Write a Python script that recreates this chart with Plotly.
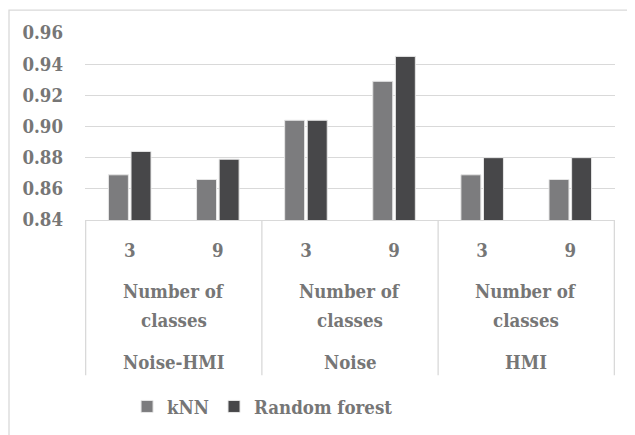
import plotly.graph_objects as go

groups = ["Noise-HMI", "Noise", "HMI"]
class_counts = ["3", "9"]
axis_title_lines = ["Number of", "classes"]
knn = [0.869, 0.866, 0.904, 0.929, 0.869, 0.866]
rf = [0.884, 0.879, 0.904, 0.945, 0.880, 0.880]
y_ticks = [0.84, 0.86, 0.88, 0.90, 0.92, 0.94, 0.96]

cats = [f"{g} {c}" for g in groups for c in class_counts]
tick_text = [c for g in groups for c in class_counts]

FONT = "DejaVu Serif Condensed, DejaVu Serif"
FS = 18.5
TXT = "#767676"
fnt = dict(family=FONT, size=FS, color=TXT, weight="bold")

fig = go.Figure()
fig.add_bar(x=cats, y=knn, name="kNN", marker=dict(color="#7c7c7e", line=dict(color="#e6e6e6", width=1)))
fig.add_bar(x=cats, y=rf, name="Random forest", marker=dict(color="#474749", line=dict(color="#e6e6e6", width=1)))

n = len(class_counts)
shapes = []
for i in range(len(groups) + 1):
    xb = i * n - 0.5
    shapes.append(dict(type="line", xref="x", yref="paper", x0=xb, x1=xb, y0=0, y1=-0.83,
                       line=dict(color="#d9d9d9", width=1.3)))
shapes.append(dict(type="rect", xref="paper", yref="paper", x0=-0.1434, x1=1.06, y0=-1.2, y1=1.1223,
                   line=dict(color="#d9d9d9", width=1.3), fillcolor="rgba(0,0,0,0)", layer="below"))

title_y = [-0.383, -0.537]
annotations = []
for i, g in enumerate(groups):
    xc = i * n + (n - 1) / 2
    for line, yy in zip(axis_title_lines, title_y):
        annotations.append(dict(x=xc, xref="x", y=yy, yref="paper", text=line, showarrow=False,
                                yanchor="middle", font=fnt))
    annotations.append(dict(x=xc, xref="x", y=-0.763, yref="paper", text=g, showarrow=False,
                            yanchor="middle", font=fnt))

fig.update_layout(
    width=627, height=427,
    margin=dict(l=77, r=20, t=25, b=214),
    paper_bgcolor="white", plot_bgcolor="white",
    barmode="group", bargap=0.487, bargroupgap=0.117,
    font=fnt,
    xaxis=dict(type="category", tickmode="array", tickvals=cats, ticktext=tick_text,
               showline=True, linecolor="#d9d9d9", linewidth=1.3, ticks="", ticklabelstandoff=14,
               tickfont=fnt, showgrid=False),
    yaxis=dict(range=[0.84, 0.96], tickvals=y_ticks, tickformat=".2f",
               showgrid=True, gridcolor="#d9d9d9", gridwidth=1.3, zeroline=False,
               ticks="", ticklabelstandoff=21, tickfont=fnt),
    showlegend=True,
    legend=dict(orientation="h", x=0.335, xanchor="center", y=-0.989, yanchor="middle",
                font=fnt, itemwidth=30, bgcolor="rgba(0,0,0,0)"),
    shapes=shapes,
    annotations=annotations,
)

fig.write_html("out.html")
